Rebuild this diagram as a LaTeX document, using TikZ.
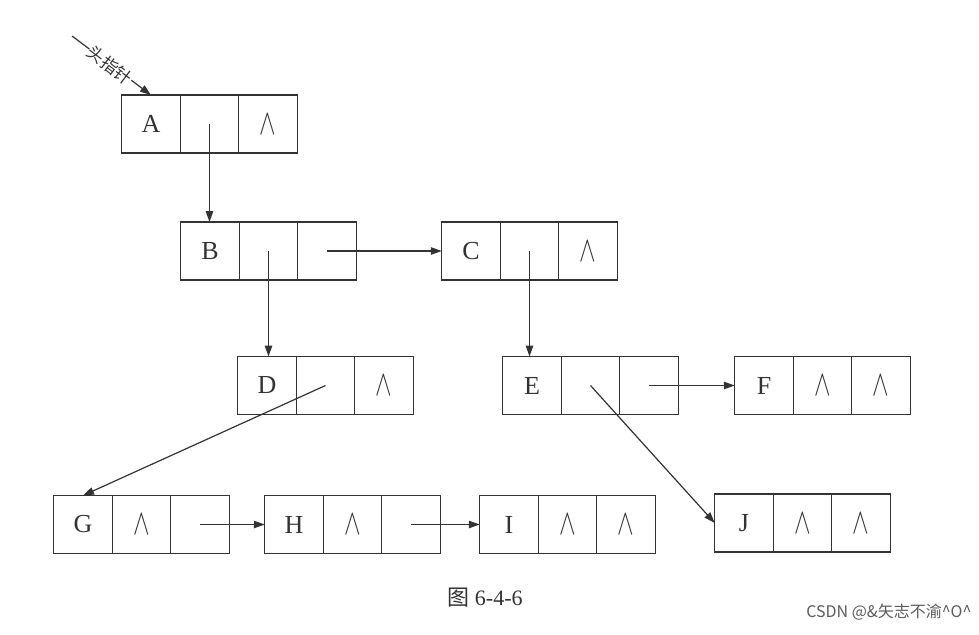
\documentclass[tikz,border=0pt]{standalone}
\usepackage{fontspec}
\setmainfont{Liberation Serif}
\newfontfamily\cjk{Noto Sans CJK SC}
\usetikzlibrary{arrows.meta,calc}
\definecolor{ink}{HTML}{333333}
\tikzset{
  cell/.style={draw=ink, line width=1.3pt, minimum width=58.5pt, minimum height=58pt,
    inner sep=0pt, outer sep=0pt, text=ink, font=\fontsize{26}{26}\selectfont},
  link/.style={draw=ink, line width=1.2pt, -{Triangle[length=11pt,width=7.5pt]}},
}
\newcommand{\nilmark}{\scalebox{1.0}[1.45]{$\wedge$}}
\newcommand{\recnode}[6]{%
  \node[cell] (#11) at (#2,#3) {#4};
  \node[cell, anchor=west] (#12) at (#11.east) {#5};
  \node[cell, anchor=west] (#13) at (#12.east) {#6};
}
\begin{document}
\begin{tikzpicture}[x=1pt,y=-1pt]
\useasboundingbox (0,0) rectangle (979,634);
\fill[white] (0,0) rectangle (979,634);
\recnode{A}{151}{124}{A}{}{\nilmark}
\recnode{B}{210}{251}{B}{}{}
\recnode{C}{471}{251}{C}{}{\nilmark}
\recnode{D}{267}{385.5}{D}{}{\nilmark}
\recnode{E}{532}{385.5}{E}{}{}
\recnode{F}{764}{385.5}{F}{\nilmark}{\nilmark}
\recnode{G}{83}{524.5}{G}{\nilmark}{}
\recnode{H}{294}{524.5}{H}{\nilmark}{}
\recnode{I}{509}{524.5}{I}{\nilmark}{\nilmark}
\recnode{J}{744}{523}{J}{\nilmark}{\nilmark}
% head pointer
\coordinate (hp) at (72,36);
\draw[link] (hp) -- (A1.north);
\node[text=ink, fill=white, inner sep=0.5pt, font=\cjk\fontsize{17}{17}\selectfont, rotate=-37] (hpl) at (110,65) {头指针};
% links
\draw[link] (A2.center) -- (A2.center |- B1.north);
\draw[link] (B2.center) -- (B2.center |- D1.north);
\draw[link] (C2.center) -- (C2.center |- E1.north);
\draw[link] (B3.center) -- (C1.west);
\draw[link] (D2.center) -- (G1.north);
\draw[link] (E2.center) -- (J1.west);
\draw[link] (E3.center) -- (F1.west);
\draw[link] (G3.center) -- (H1.west);
\draw[link] (H3.center) -- (I1.west);
% caption and watermark
\node[text=ink, font=\fontsize{22}{22}\selectfont] (cap) at (485,598) {{\cjk 图} 6-4-6};
\node[text=ink!80, font=\cjk\fontsize{16}{16}\selectfont, anchor=east] (wm) at (975,612) {CSDN @\&矢志不渝\^{}O\^{}};
\end{tikzpicture}
\end{document}
